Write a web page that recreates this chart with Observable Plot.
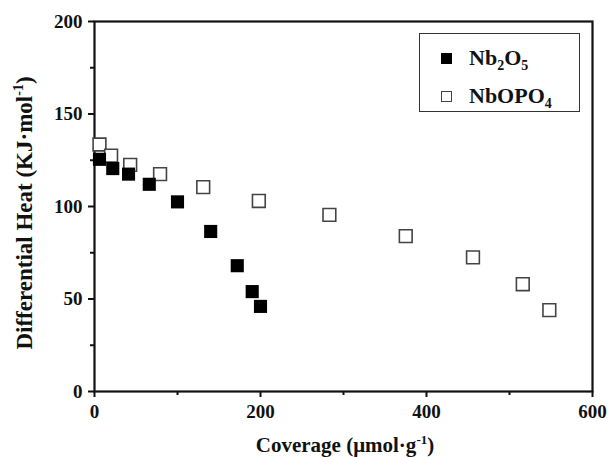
<!DOCTYPE html>
<html><head><meta charset="utf-8">
<script src="https://cdn.jsdelivr.net/npm/d3@7"></script>
<script src="https://cdn.jsdelivr.net/npm/@observablehq/plot@0.6"></script>
<style>
body{margin:0;background:#fff;}
#chart{position:relative;width:610px;height:457px;font-family:"Liberation Serif","Times New Roman",serif;}
#legend{position:absolute;left:419px;top:33px;width:161px;height:79px;border:1.5px solid #333;box-sizing:border-box;background:#fff;}
.row{position:absolute;left:0;height:30px;display:flex;align-items:center;font-weight:bold;font-size:22px;color:#111;}
.sym{width:11px;height:11px;box-sizing:border-box;margin-left:21px;margin-right:17px;flex:none;}
.lbl{display:inline-block;line-height:30px;}
.lbl sub{font-size:14px;vertical-align:-5px;line-height:0;}
</style></head><body><div id="chart"></div>
<script>
const seriesNames = ["Nb2O5", "NbOPO4"];
const nb2o5X = [6, 22, 41, 66, 100, 140, 172, 190, 200];
const nb2o5Y = [125.5, 120.5, 117.5, 112, 102.5, 86.5, 68, 54, 46];
const nbopo4X = [6, 20, 43, 79, 131, 198, 283, 375, 456, 516, 548];
const nbopo4Y = [133.5, 127.5, 122.5, 117.5, 110.5, 103, 95.5, 84, 72.5, 58, 44];
const xTicks = [0, 200, 400, 600];
const xMinor = [100, 300, 500];
const yTicks = [0, 50, 100, 150, 200];
const yMinor = [25, 75, 125, 175];

const filled = nb2o5X.map((x, i) => ({x, y: nb2o5Y[i], s: seriesNames[0]}));
const open = nbopo4X.map((x, i) => ({x, y: nbopo4Y[i], s: seriesNames[1]}));

const plot = Plot.plot({
  width: 610, height: 457,
  marginLeft: 94, marginRight: 18, marginTop: 21, marginBottom: 66,
  style: {fontFamily: '"Liberation Serif","Times New Roman",serif', fontSize: "19px", fontWeight: "bold", color: "#111", background: "#fff"},
  x: {domain: [0, 600]},
  y: {domain: [0, 200]},
  marks: [
    Plot.axisX({ticks: xTicks, tickSize: 6, tickPadding: 7, strokeWidth: 2, label: null, tickFormat: d3.format("d")}),
    Plot.axisX({ticks: xMinor, tickSize: 4, strokeWidth: 2, text: null, label: null}),
    Plot.axisY({ticks: yTicks, tickSize: 6, tickPadding: 6, strokeWidth: 2, label: null, tickFormat: d3.format("d")}),
    Plot.axisY({ticks: yMinor, tickSize: 4, strokeWidth: 2, text: null, label: null}),
    Plot.frame({stroke: "#111", strokeWidth: 2.2}),
    Plot.dot(open, {x: "x", y: "y", symbol: "square", r: 7.2, fill: "#fff", stroke: "#444", strokeWidth: 1.6}),
    Plot.dot(filled, {x: "x", y: "y", symbol: "square", r: 7.4, fill: "#000", stroke: "none"})
  ]
});
const chart = document.getElementById("chart");
chart.appendChild(plot);

const svg = d3.select(plot);
const xt = svg.append("text")
  .attr("x", 345).attr("y", 452).attr("text-anchor", "middle")
  .style("font-size", "21px").style("font-weight", "bold").attr("fill", "#111");
xt.append("tspan").text("Coverage (μmol·g");
xt.append("tspan").text("-1").attr("dy", -8).style("font-size", "13px");
xt.append("tspan").text(")").attr("dy", 8);

const yt = svg.append("text")
  .attr("transform", "translate(32,213) rotate(-90)").attr("text-anchor", "middle")
  .style("font-size", "23px").style("font-weight", "bold").attr("fill", "#111");
yt.append("tspan").text("Differential Heat (KJ·mol");
yt.append("tspan").text("-1").attr("dy", -9).style("font-size", "14px");
yt.append("tspan").text(")").attr("dy", 9);

const legend = document.createElement("div");
legend.id = "legend";
legend.innerHTML =
  '<div class="row" style="top:9px"><div class="sym" style="background:#000"></div><span class="lbl">Nb<sub>2</sub>O<sub>5</sub></span></div>' +
  '<div class="row" style="top:47px"><div class="sym" style="border:1.5px solid #444;background:#fff"></div><span class="lbl">NbOPO<sub>4</sub></span></div>';
chart.appendChild(legend);
</script></body></html>
